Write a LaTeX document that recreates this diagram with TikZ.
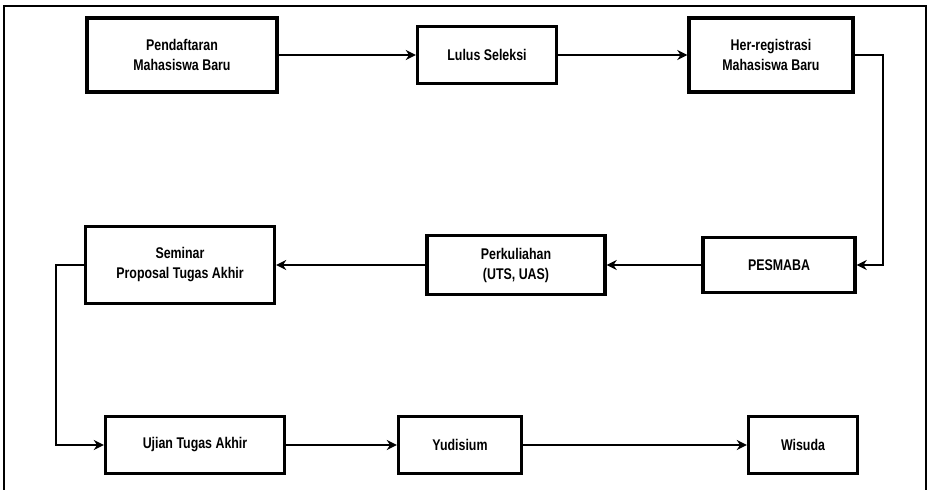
\documentclass[tikz,border=0pt]{standalone}
\usepackage{fontspec}
\setmainfont{Liberation Sans}[FakeStretch=0.8]
\usetikzlibrary{arrows.meta}
\begin{document}
\begin{tikzpicture}[x=1pt,y=-1pt,
  box/.style={draw,line width=3.4pt,rectangle,inner sep=0pt,align=center,
    font=\fontsize{15.5}{20}\selectfont\bfseries},
  arr/.style={line width=1.8pt,-{Stealth[length=10pt,width=10pt]}},
  frame/.style={line width=1.2pt}]
\useasboundingbox (0,0) rectangle (930,490);
\draw[frame] (4,490) -- (4,6) -- (926,6) -- (926,490);
% row 1
\node[box,minimum width=190pt,minimum height=74pt] (p1) at (182,55) {Pendaftaran\\Mahasiswa Baru};
\node[box,minimum width=139pt,minimum height=57pt] (p2) at (487,55) {Lulus Seleksi};
\node[box,minimum width=164pt,minimum height=74pt] (p3) at (771,55) {Her-registrasi\\Mahasiswa Baru};
% row 2
\node[box,minimum width=152pt,minimum height=55pt] (p4) at (779,265) {PESMABA};
\node[box,minimum width=178pt,minimum height=59pt] (p5) at (516,265) {Perkuliahan\\(UTS, UAS)};
\node[box,minimum width=189pt,minimum height=77pt] (p6) at (180,265) {Seminar\\Proposal Tugas Akhir};
% row 3
\node[box,minimum width=179pt,minimum height=57pt] (p7) at (195,445) {Ujian Tugas Akhir};
\node[box,minimum width=123pt,minimum height=57pt] (p8) at (460,445) {Yudisium};
\node[box,minimum width=109pt,minimum height=57pt] (p9) at (803,445) {Wisuda};
% connectors
\draw[arr] (p1.east) -- (p2.west);
\draw[arr] (p2.east) -- (p3.west);
\draw[arr] (p3.east) -- ++(28,0) |- (p4.east);
\draw[arr] (p4.west) -- (p5.east);
\draw[arr] (p5.west) -- (p6.east);
\draw[arr] (p6.west) -- ++(-28,0) |- (p7.west);
\draw[arr] (p7.east) -- (p8.west);
\draw[arr] (p8.east) -- (p9.west);
\end{tikzpicture}
\end{document}
